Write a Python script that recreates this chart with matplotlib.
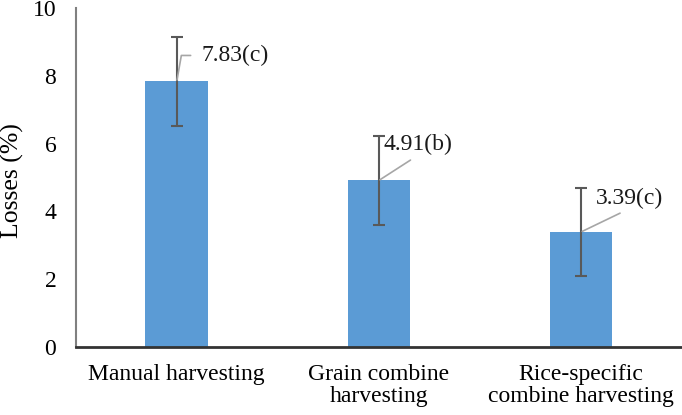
import matplotlib
matplotlib.use('Agg')
import matplotlib.pyplot as plt

categories = ['Manual harvesting', 'Grain combine\nharvesting', 'Rice-specific\ncombine harvesting']
losses = [7.83, 4.91, 3.39]
errors = [1.3, 1.3, 1.3]
labels = ['7.83(c)', '4.91(b)', '3.39(c)']

plt.rcParams['font.family'] = ['Liberation Serif', 'DejaVu Serif']

fig = plt.figure(figsize=(6.82, 4.15), dpi=100)
ax = fig.add_axes([0.111, 0.164, 0.889, 0.817])

x = list(range(len(categories)))
ax.bar(x, losses, width=0.31, color='#5B9BD5', zorder=2)
ax.errorbar(x, losses, yerr=errors, fmt='none', ecolor='#595959',
            elinewidth=1.5, capsize=4, capthick=1.5, zorder=3)

# data labels with leader lines (offsets in pixels)
offsets = [(25, 26), (5, 36), (15, 34)]
for i, (val, lab, off) in enumerate(zip(losses, labels, offsets)):
    if i == 0:
        props = dict(arrowstyle='-', color='#A6A6A6', lw=1.2,
                     relpos=(0, 0.5), shrinkA=6, shrinkB=1,
                     connectionstyle='angle,angleA=0,angleB=80,rad=0')
    else:
        props = dict(arrowstyle='-', color='#A6A6A6', lw=1.2,
                     relpos=(0.5, 0), shrinkA=3, shrinkB=1)
    ax.annotate(lab, xy=(i, val), xytext=off, textcoords='offset pixels',
                ha='left', va='center', fontsize=17, color='#1a1a1a',
                arrowprops=props, zorder=4)

ax.set_xlim(-0.5, 2.5)
ax.set_ylim(0, 10)
ax.set_yticks([0, 2, 4, 6, 8, 10])
ax.set_xticks(x)
ax.set_xticklabels(categories, fontsize=17, linespacing=1.1)
ax.tick_params(axis='y', length=0, pad=14, labelsize=17)
ax.tick_params(axis='x', length=0, pad=12)
ax.set_ylabel('Losses (%)', fontsize=18.5, va='center', ha='center')
ax.yaxis.set_label_coords(-0.104, 0.49)

for side in ['top', 'right']:
    ax.spines[side].set_visible(False)
ax.spines['left'].set_color('#808080')
ax.spines['left'].set_linewidth(1.5)
ax.spines['bottom'].set_color('#333333')
ax.spines['bottom'].set_linewidth(2)

fig.savefig('out.png', dpi=100)
